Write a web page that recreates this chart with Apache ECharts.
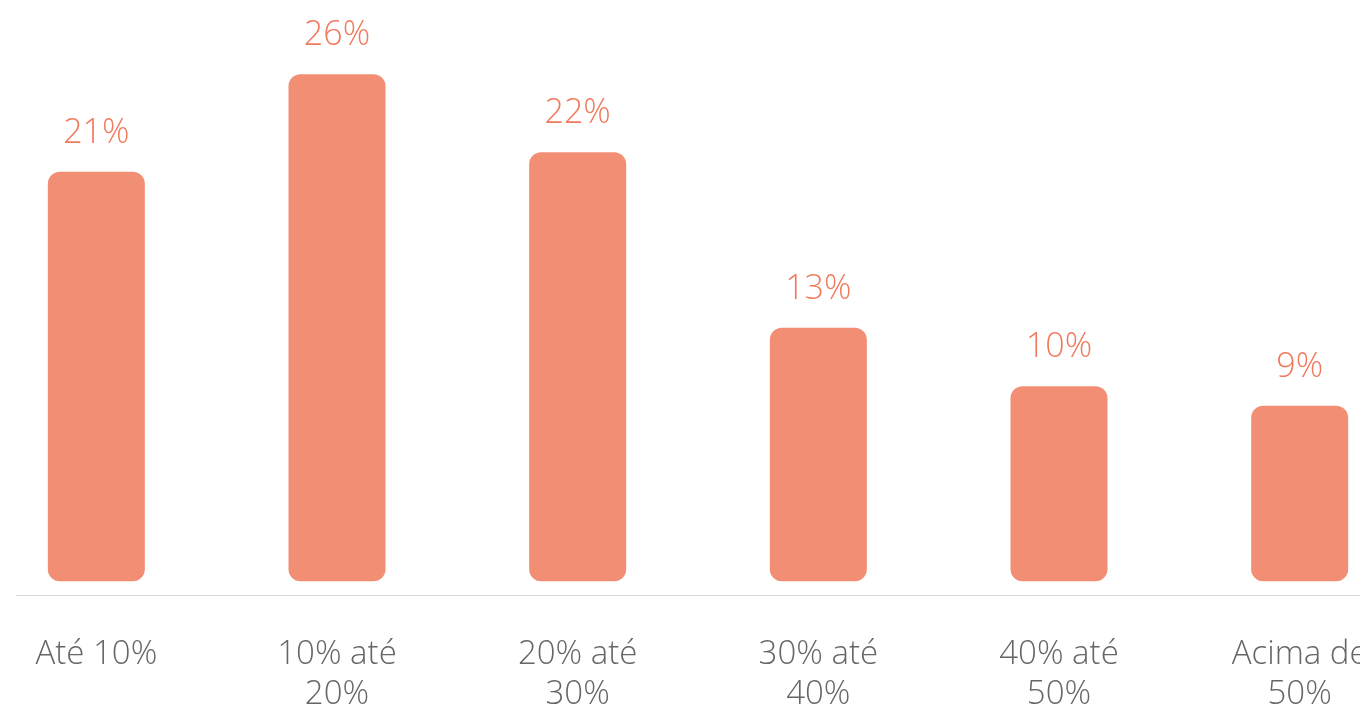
<!DOCTYPE html>
<html>
<head>
<meta charset="utf-8">
<style>
  html, body { margin: 0; padding: 0; background: #ffffff; }
  #chart { width: 1360px; height: 710px; }
</style>
<script src="https://cdn.jsdelivr.net/npm/echarts@6/dist/echarts.min.js"></script>
</head>
<body>
<div id="chart"></div>
<script>
// Faixas de desconto e participação de cada faixa (%)
const categories = ['Até 10%', '10% até\n20%', '20% até\n30%', '30% até\n40%', '40% até\n50%', 'Acima de\n50%'];
const values = [21, 26, 22, 13, 10, 9];

const BAR_COLOR = '#F28E74';
const VALUE_COLOR = '#F07A5E';
const TEXT_COLOR = '#666666';
const FONT = '"Open Sans", "Noto Sans", sans-serif';

const chart = echarts.init(document.getElementById('chart'), null, { renderer: 'canvas' });

chart.setOption({
  animation: false,
  backgroundColor: '#ffffff',
  grid: [
    { left: -24, width: 1444, top: 10, height: 585, containLabel: false, outerBoundsMode: 'none' },
    { left: 16, width: 1400, top: 10, height: 585, containLabel: false, outerBoundsMode: 'none' }
  ],
  xAxis: [
    {
      type: 'category',
      gridIndex: 0,
      data: categories,
      boundaryGap: true,
      axisLine: { show: false, onZero: false },
      axisTick: { show: false },
      axisLabel: {
        interval: 0,
        color: TEXT_COLOR,
        fontFamily: FONT,
        fontWeight: 300,
        fontSize: 33,
        lineHeight: 40,
        margin: 40,
        verticalAlign: 'top',
        hideOverlap: false
      }
    },
    {
      type: 'value',
      gridIndex: 1,
      min: 0,
      max: 1,
      axisLine: { show: true, onZero: false, lineStyle: { color: '#d6d6d6', width: 1 } },
      axisTick: { show: false },
      axisLabel: { show: false },
      splitLine: { show: false }
    }
  ],
  yAxis: [
    {
      type: 'value',
      gridIndex: 0,
      min: -0.7,
      max: 29.3,
      show: false,
      splitLine: { show: false }
    },
    {
      type: 'value',
      gridIndex: 1,
      show: false
    }
  ],
  series: [
    {
      type: 'bar',
      xAxisIndex: 0,
      yAxisIndex: 0,
      data: values,
      barWidth: 97,
      itemStyle: { color: BAR_COLOR, borderRadius: 12 },
      label: {
        show: true,
        position: 'top',
        distance: 22,
        formatter: '{c}%',
        color: VALUE_COLOR,
        fontFamily: FONT,
        fontWeight: 300,
        fontSize: 34
      }
    }
  ]
});
</script>
</body>
</html>
